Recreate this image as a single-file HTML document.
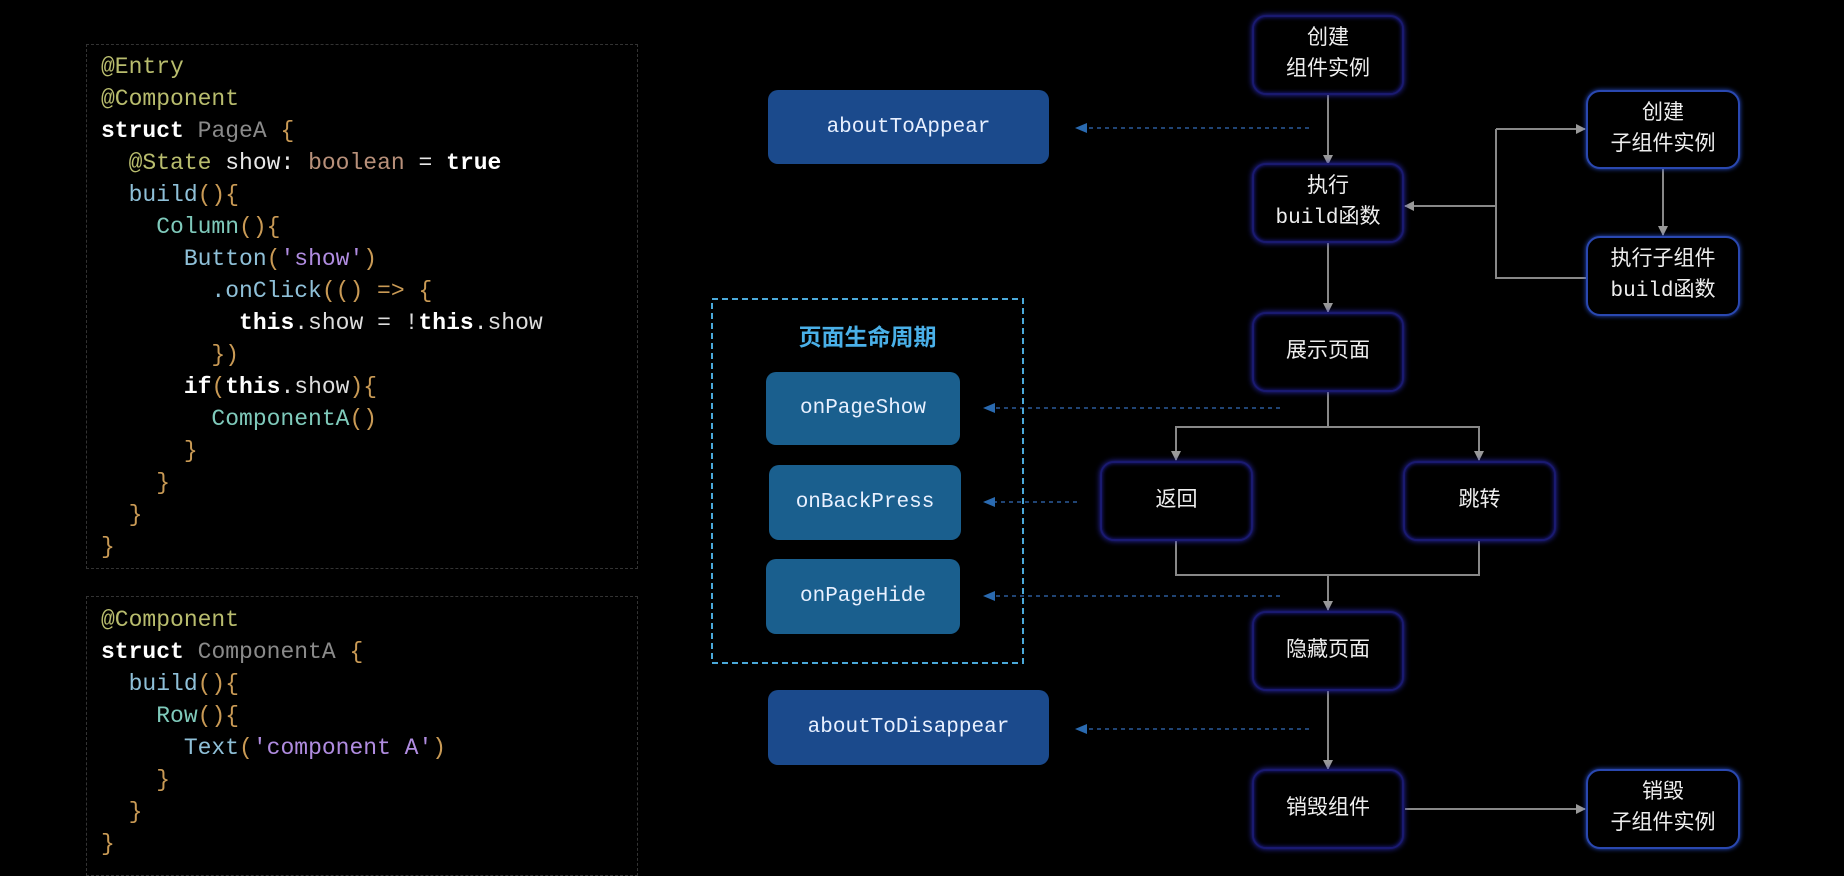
<!DOCTYPE html>
<html><head><meta charset="utf-8"><style>
body{margin:0;width:1844px;height:860px;background:#000;overflow:hidden;position:relative;font-family:"Liberation Sans","Noto Sans CJK SC",sans-serif}
.code{position:absolute;border:1.5px dashed #333;box-sizing:border-box}
.ln{position:absolute;left:101px;font-family:"Liberation Mono","DejaVu Sans Mono",monospace;font-size:23px;white-space:pre;color:#ddd;line-height:32px}
.d{color:#b9bd6e}.k{color:#fff;font-weight:bold}.g{color:#8a8a8a}.o{color:#c99a55}.t{color:#b8907a}.f{color:#8fc0d8}.c{color:#7fcabb}.s{color:#b08ce0}.w{color:#e8e8e8}
.n{position:absolute;box-sizing:border-box;border:2px solid #1a1a70;border-radius:14px;background:#000;box-shadow:0 0 6px #2a2ab0, inset 0 0 4px #2020a0;color:#eee;font-size:21px;display:flex;align-items:center;justify-content:center;text-align:center;line-height:31px;font-family:"Liberation Mono","Noto Sans CJK SC",monospace}
.n.b{border-color:#2a48b0;box-shadow:0 0 5px #2a50d0}
.bl{position:absolute;border-radius:10px;color:#e8f0ff;font-family:"Liberation Mono","DejaVu Sans Mono",monospace;font-size:21px;display:flex;align-items:center;justify-content:center}
.a{background:#1b4a8c}.p{background:#1a5f8e}
</style></head><body>
<div class="code" style="left:86px;top:44px;width:552px;height:525px"></div>
<div class="code" style="left:86px;top:596px;width:552px;height:280px"></div>
<div class="ln" style="top:51px"><span class="d">@Entry</span></div>
<div class="ln" style="top:83px"><span class="d">@Component</span></div>
<div class="ln" style="top:115px"><span class="k">struct</span> <span class="g">PageA</span> <span class="o">{</span></div>
<div class="ln" style="top:147px">  <span class="d">@State</span> <span class="w">show:</span> <span class="t">boolean</span> <span class="w">=</span> <span class="k">true</span></div>
<div class="ln" style="top:179px">  <span class="f">build</span><span class="o">(){</span></div>
<div class="ln" style="top:211px">    <span class="c">Column</span><span class="o">(){</span></div>
<div class="ln" style="top:243px">      <span class="f">Button</span><span class="o">(</span><span class="s">'show'</span><span class="o">)</span></div>
<div class="ln" style="top:275px">        <span class="f">.onClick</span><span class="o">(() =&gt; {</span></div>
<div class="ln" style="top:307px">          <span class="k">this</span>.show = !<span class="k">this</span>.show</div>
<div class="ln" style="top:339px">        <span class="o">})</span></div>
<div class="ln" style="top:371px">      <span class="k">if</span><span class="o">(</span><span class="k">this</span>.show<span class="o">){</span></div>
<div class="ln" style="top:403px">        <span class="c">ComponentA</span><span class="o">()</span></div>
<div class="ln" style="top:435px">      <span class="o">}</span></div>
<div class="ln" style="top:467px">    <span class="o">}</span></div>
<div class="ln" style="top:499px">  <span class="o">}</span></div>
<div class="ln" style="top:531px"><span class="o">}</span></div>
<div class="ln" style="top:604px"><span class="d">@Component</span></div>
<div class="ln" style="top:636px"><span class="k">struct</span> <span class="g">ComponentA</span> <span class="o">{</span></div>
<div class="ln" style="top:668px">  <span class="f">build</span><span class="o">(){</span></div>
<div class="ln" style="top:700px">    <span class="c">Row</span><span class="o">(){</span></div>
<div class="ln" style="top:732px">      <span class="f">Text</span><span class="o">(</span><span class="s">'component A'</span><span class="o">)</span></div>
<div class="ln" style="top:764px">    <span class="o">}</span></div>
<div class="ln" style="top:796px">  <span class="o">}</span></div>
<div class="ln" style="top:828px"><span class="o">}</span></div>

<svg style="position:absolute;left:0;top:0" width="1844" height="860">
<defs>
<marker id="ar" markerWidth="10" markerHeight="10" refX="9" refY="5" orient="auto" markerUnits="userSpaceOnUse"><path d="M0,0 L10,5 L0,10 z" fill="#999"/></marker>
<marker id="ab" markerWidth="12" markerHeight="12" refX="10" refY="6" orient="auto" markerUnits="userSpaceOnUse"><path d="M0,1 L12,6 L0,11 z" fill="#2a6ab0"/></marker>
</defs>
<g stroke="#888" stroke-width="2" fill="none">
<line x1="1328" y1="94" x2="1328" y2="164" marker-end="url(#ar)"/>
<line x1="1328" y1="242" x2="1328" y2="312" marker-end="url(#ar)"/>
<polyline points="1328,390 1328,427 1176,427 1176,460" marker-end="url(#ar)"/>
<polyline points="1328,427 1479,427 1479,460" marker-end="url(#ar)"/>
<polyline points="1176,540 1176,575 1479,575 1479,540"/>
<line x1="1328" y1="575" x2="1328" y2="610" marker-end="url(#ar)"/>
<line x1="1328" y1="689" x2="1328" y2="769" marker-end="url(#ar)"/>
<polyline points="1586,278 1496,278 1496,129"/>
<line x1="1496" y1="129" x2="1585" y2="129" marker-end="url(#ar)"/>
<line x1="1496" y1="206" x2="1405" y2="206" marker-end="url(#ar)"/>
<line x1="1663" y1="168" x2="1663" y2="235" marker-end="url(#ar)"/>
<line x1="1405" y1="809" x2="1585" y2="809" marker-end="url(#ar)"/>
</g>
<g stroke="#2a5a9a" stroke-width="1.5" stroke-dasharray="4,4" fill="none">
<line x1="1309" y1="128" x2="1077" y2="128" marker-end="url(#ab)"/>
<line x1="1280" y1="408" x2="985" y2="408" marker-end="url(#ab)"/>
<line x1="1077" y1="502" x2="985" y2="502" marker-end="url(#ab)"/>
<line x1="1280" y1="596" x2="985" y2="596" marker-end="url(#ab)"/>
<line x1="1309" y1="729" x2="1077" y2="729" marker-end="url(#ab)"/>
</g>
<rect x="712" y="299" width="311" height="364" fill="none" stroke="#4aa8d8" stroke-width="2" stroke-dasharray="6,4"/>
</svg>

<div class="n" style="left:1252px;top:15px;width:152px;height:80px">创建<br>组件实例</div>
<div class="n" style="left:1252px;top:163px;width:152px;height:80px">执行<br>build函数</div>
<div class="n" style="left:1252px;top:312px;width:152px;height:80px">展示页面</div>
<div class="n" style="left:1100px;top:461px;width:153px;height:80px">返回</div>
<div class="n" style="left:1403px;top:461px;width:153px;height:80px">跳转</div>
<div class="n" style="left:1252px;top:611px;width:152px;height:80px">隐藏页面</div>
<div class="n" style="left:1252px;top:769px;width:152px;height:80px">销毁组件</div>
<div class="n b" style="left:1586px;top:90px;width:154px;height:79px">创建<br>子组件实例</div>
<div class="n b" style="left:1586px;top:236px;width:154px;height:80px">执行子组件<br>build函数</div>
<div class="n b" style="left:1586px;top:769px;width:154px;height:80px">销毁<br>子组件实例</div>

<div class="bl a" style="left:768px;top:90px;width:281px;height:74px">aboutToAppear</div>
<div class="bl a" style="left:768px;top:690px;width:281px;height:75px">aboutToDisappear</div>
<div style="position:absolute;left:712px;top:318px;width:311px;text-align:center;color:#4ab0e8;font-size:23px;font-family:'Liberation Sans','Noto Sans CJK SC',sans-serif;font-weight:bold">页面生命周期</div>
<div class="bl p" style="left:766px;top:372px;width:194px;height:73px">onPageShow</div>
<div class="bl p" style="left:769px;top:465px;width:192px;height:75px">onBackPress</div>
<div class="bl p" style="left:766px;top:559px;width:194px;height:75px">onPageHide</div>
</body></html>
